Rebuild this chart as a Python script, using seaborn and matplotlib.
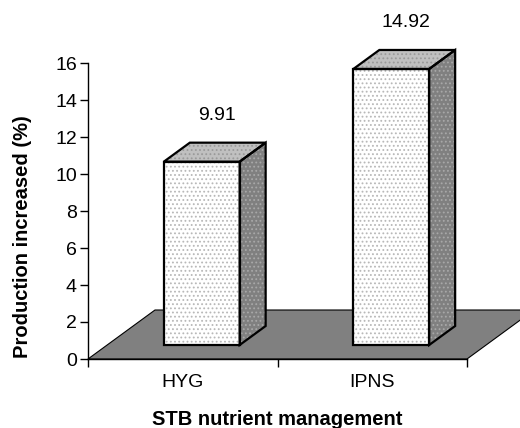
import numpy as np
import pandas as pd
import matplotlib
matplotlib.use("Agg")
import matplotlib.pyplot as plt
import seaborn as sns
from matplotlib.patches import Polygon, Rectangle
from matplotlib.transforms import IdentityTransform, ScaledTranslation

# ---- data ----
categories = ["HYG", "IPNS"]
values = [9.91, 14.92]
value_labels = ["9.91", "14.92"]
yticks = [0, 2, 4, 6, 8, 10, 12, 14, 16]
xlabel = "STB nutrient management"
ylabel = "Production increased (%)"

sns.set_theme(style="white")
plt.rcParams["font.family"] = ["Liberation Sans", "DejaVu Sans"]
plt.rcParams["hatch.linewidth"] = 0.8

DPI = 100
fig = plt.figure(figsize=(5.2, 4.28), dpi=DPI)
ax = fig.add_axes([88 / 520, 69 / 428, 379 / 520, 296 / 428])

df = pd.DataFrame({"cat": categories, "val": values})
sns.barplot(data=df, x="cat", y="val", ax=ax, width=0.4, color="white",
            saturation=1, edgecolor="#b8b8b8", linewidth=0, hatch="....",
            zorder=4)
bars = [p for p in ax.patches if isinstance(p, Rectangle)]
ax.set_xlim(-0.5, 1.5)
ax.set_ylim(0, 16)

# 3D styling offsets (pixels)
FDX, FDY = 19, 14     # bars placed inside the floor depth
BDX, BDY = 26, 19     # bar depth
GDX, GDY = 67, 49     # floor depth

fig.canvas.draw()
ident = IdentityTransform()

# floor
fl = ax.transData.transform([(-0.5, 0), (1.5, 0)])
floor_pts = [fl[0], fl[1], fl[1] + [GDX, GDY], fl[0] + [GDX, GDY]]
ax.add_patch(Polygon(floor_pts, closed=True, transform=ident, facecolor="#808080",
                     edgecolor="black", linewidth=0.8, zorder=1, clip_on=False))

offset = ScaledTranslation(FDX / DPI, FDY / DPI, fig.dpi_scale_trans)
for p in bars:
    x0, x1 = p.get_x(), p.get_x() + p.get_width()
    h = p.get_height()
    p.set_transform(ax.transData + offset)
    p.set_clip_on(False)
    (X0, Y0), (X1, Y1) = ax.transData.transform([(x0, 0), (x1, h)])
    X0 += FDX; X1 += FDX; Y0 += FDY; Y1 += FDY
    front = [(X0, Y0), (X1, Y0), (X1, Y1), (X0, Y1)]
    top = [(X0, Y1), (X1, Y1), (X1 + BDX, Y1 + BDY), (X0 + BDX, Y1 + BDY)]
    side = [(X1, Y0), (X1 + BDX, Y0 + BDY), (X1 + BDX, Y1 + BDY), (X1, Y1)]
    for pts, fc, hc in [(top, "#c0c0c0", "#9a9a9a"), (side, "#808080", "#a8a8a8")]:
        ax.add_patch(Polygon(pts, closed=True, transform=ident, facecolor=fc,
                             edgecolor=hc, linewidth=0, hatch="....", zorder=4,
                             clip_on=False))
    for pts in (front, top, side):
        ax.add_patch(Polygon(pts, closed=True, transform=ident, facecolor="none",
                             edgecolor="black", linewidth=1.6, zorder=5,
                             joinstyle="miter", clip_on=False))

# value labels
for i, (v, lab) in enumerate(zip(values, value_labels)):
    ax.annotate(lab, xy=(i, v), xytext=(34 * 0.72, 60 * 0.72),
                textcoords="offset points", ha="center", va="center",
                fontsize=14, color="black")

# axes styling
sns.despine(ax=ax, top=True, right=True)
for s in ("left", "bottom"):
    ax.spines[s].set_color("black")
    ax.spines[s].set_linewidth(1.0)
    ax.spines[s].set_zorder(2)

ax.set_yticks(yticks)
ax.set_yticklabels([str(t) for t in yticks])
ax.tick_params(axis="y", direction="out", length=6, width=1, color="black",
               labelsize=14, pad=2, left=True, labelcolor="black")
ax.set_xticks([-0.5, 0.5, 1.5])
ax.set_xticklabels(["", "", ""])
ax.set_xticks([0, 1], minor=True)
ax.set_xticklabels(categories, minor=True)
ax.tick_params(axis="x", which="major", direction="out", length=6, width=1,
               color="black", bottom=True)
ax.tick_params(axis="x", which="minor", length=0, labelsize=14, pad=11,
               labelcolor="black", bottom=True)

ax.set_xlabel(xlabel, fontsize=14.5, fontweight="bold", color="black")
ax.set_ylabel(ylabel, fontsize=14.5, fontweight="bold", color="black")
ax.xaxis.set_label_coords(0.5, -0.172)
ax.yaxis.set_label_coords(-0.147, 0.412)
ax.grid(False)
ax.set_facecolor("none")

fig.savefig("out.png", dpi=DPI, facecolor="white")
